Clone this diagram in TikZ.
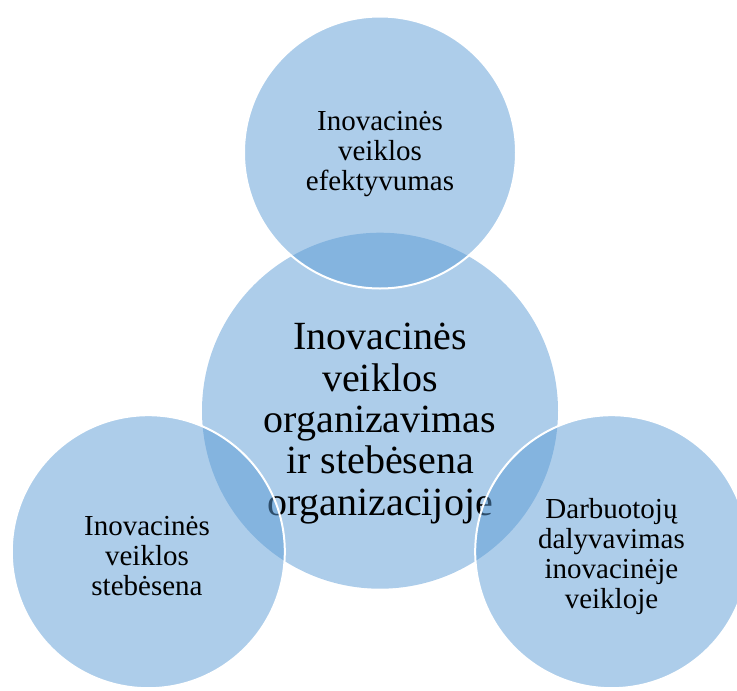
\documentclass[tikz,border=0pt]{standalone}
\usepackage{fontspec}
\setmainfont{Liberation Serif}
\definecolor{petal}{RGB}{91,155,213}
\begin{document}
\begin{tikzpicture}[x=1pt,y=-1pt,
  disc/.style={circle, fill=petal, fill opacity=0.5, inner sep=0pt, outer sep=0pt},
  ring/.style={disc, draw=white, draw opacity=1, line width=2pt},
  small/.style={align=center, font=\fontsize{29}{30}\selectfont, text=black, inner sep=0pt},
  big/.style={align=center, font=\fontsize{40}{41.3}\selectfont, text=black, inner sep=0pt}]
\useasboundingbox (0,0) rectangle (737,691);
% central theme
\node[disc, minimum size=356pt] (hub) at (380,410.7) {};
\node[big] (hubtext) at (380,423.5) {Inovacinės\\veiklos\\organizavimas\\ir stebėsena\\organizacijoje};
% three surrounding aspects
\node[ring, minimum size=272pt] (top) at (380,152.5) {};
\node[small] (toptext) at (380,154) {Inovacinės\\veiklos\\efektyvumas};
\node[ring, minimum size=273pt] (left) at (148.3,551.7) {};
\node[small] (lefttext) at (147,556.5) {Inovacinės\\veiklos\\stebėsena};
\node[ring, minimum size=273pt] (right) at (611.7,551.7) {};
\node[small] (righttext) at (611.5,556.5) {Darbuotojų\\dalyvavimas\\inovacinėje\\veikloje};
\end{tikzpicture}
\end{document}
